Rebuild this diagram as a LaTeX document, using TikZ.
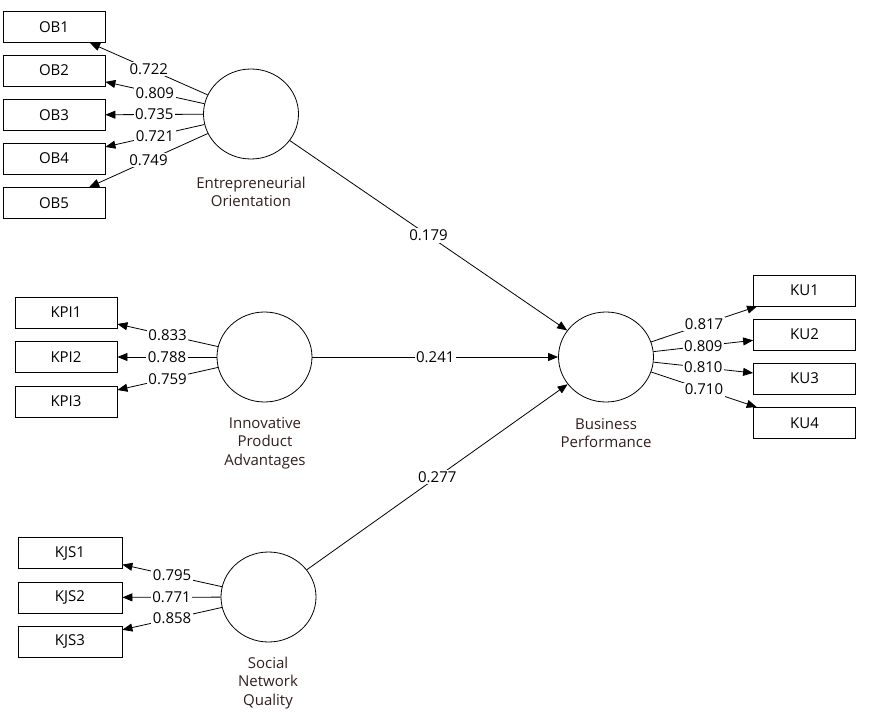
\documentclass[tikz,border=0pt]{standalone}
\usepackage{fontspec}
\setmainfont{Open Sans}
\usetikzlibrary{shapes.geometric,arrows.meta}
\definecolor{lbltext}{RGB}{50,30,30}
\begin{document}
\begin{tikzpicture}[x=1pt,y=-1pt,
  ind/.style={draw,line width=0.8pt,minimum width=102pt,minimum height=31pt,inner sep=0pt,font=\fontsize{15}{17}\selectfont},
  lat/.style={draw,line width=0.8pt,ellipse,minimum width=95pt,minimum height=90pt,inner sep=0pt},
  latcap/.style={align=center,font=\fontsize{15}{18.5}\selectfont,text=lbltext,inner sep=0pt},
  lbl/.style={fill=white,inner sep=1.5pt,font=\fontsize{15}{17}\selectfont},
  arr/.style={line width=0.8pt,-{Triangle[length=10pt,width=8pt]}}]
\useasboundingbox (0,0) rectangle (876,712);
% indicators
\node[ind] (ob1) at (54,27) {OB1};
\node[ind] (ob2) at (54,70.5) {OB2};
\node[ind] (ob3) at (54,115) {OB3};
\node[ind] (ob4) at (54,158.5) {OB4};
\node[ind] (ob5) at (54,203) {OB5};
\node[ind] (kpi1) at (66,312.5) {KPI1};
\node[ind] (kpi2) at (66,357) {KPI2};
\node[ind] (kpi3) at (66,401.5) {KPI3};
\node[ind,minimum width=104pt] (kjs1) at (70,553) {KJS1};
\node[ind,minimum width=104pt] (kjs2) at (70,597.5) {KJS2};
\node[ind,minimum width=104pt] (kjs3) at (70,641.5) {KJS3};
\node[ind] (ku1) at (804.5,290.5) {KU1};
\node[ind] (ku2) at (804.5,334.5) {KU2};
\node[ind] (ku3) at (804.5,378.5) {KU3};
\node[ind] (ku4) at (804.5,423) {KU4};
% latent variables
\node[lat] (eo) at (251,114) {};
\node[lat] (ipa) at (264.5,357) {};
\node[lat] (snq) at (268.5,597) {};
\node[lat] (bp) at (606,357) {};
\node[latcap] (eoc) at (251,192) {Entrepreneurial\\Orientation};
\node[latcap] (ipac) at (265,443) {Innovative\\Product\\Advantages};
\node[latcap] (snqc) at (268,683) {Social\\Network\\Quality};
\node[latcap] (bpc) at (606,433) {Business\\Performance};
% outer loadings
\draw[arr] (eo) -- node[lbl]{0.722} (ob1);
\draw[arr] (eo) -- node[lbl]{0.809} (ob2);
\draw[arr] (eo) -- node[lbl]{0.735} (ob3);
\draw[arr] (eo) -- node[lbl]{0.721} (ob4);
\draw[arr] (eo) -- node[lbl]{0.749} (ob5);
\draw[arr] (ipa) -- node[lbl]{0.833} (kpi1);
\draw[arr] (ipa) -- node[lbl]{0.788} (kpi2);
\draw[arr] (ipa) -- node[lbl]{0.759} (kpi3);
\draw[arr] (snq) -- node[lbl]{0.795} (kjs1);
\draw[arr] (snq) -- node[lbl]{0.771} (kjs2);
\draw[arr] (snq) -- node[lbl]{0.858} (kjs3);
\draw[arr] (bp) -- node[lbl]{0.817} (ku1);
\draw[arr] (bp) -- node[lbl]{0.809} (ku2);
\draw[arr] (bp) -- node[lbl]{0.810} (ku3);
\draw[arr] (bp) -- node[lbl]{0.710} (ku4);
% structural paths
\draw[arr] (eo) -- node[lbl]{0.179} (bp);
\draw[arr] (ipa) -- node[lbl]{0.241} (bp);
\draw[arr] (snq) -- node[lbl]{0.277} (bp);
\end{tikzpicture}
\end{document}
